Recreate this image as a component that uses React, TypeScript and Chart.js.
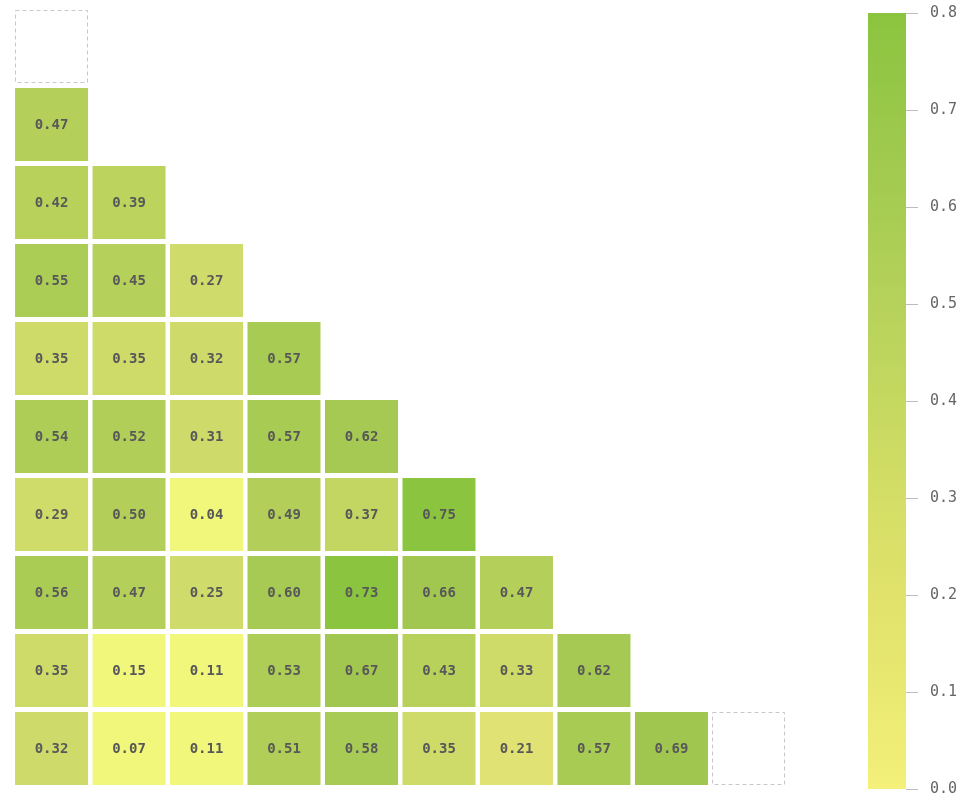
import React, { useEffect, useRef } from "react";
import { Chart, registerables } from "chart.js";

Chart.register(...registerables);

// Lower triangle of the correlation matrix (row i holds columns 0..i-1)
const matrixSize = 10;
const lowerTriangle: number[][] = [
  [],
  [0.47],
  [0.42, 0.39],
  [0.55, 0.45, 0.27],
  [0.35, 0.35, 0.32, 0.57],
  [0.54, 0.52, 0.31, 0.57, 0.62],
  [0.29, 0.5, 0.04, 0.49, 0.37, 0.75],
  [0.56, 0.47, 0.25, 0.6, 0.73, 0.66, 0.47],
  [0.35, 0.15, 0.11, 0.53, 0.67, 0.43, 0.33, 0.62],
  [0.32, 0.07, 0.11, 0.51, 0.58, 0.35, 0.21, 0.57, 0.69],
];
// Diagonal positions shown as empty dashed placeholders
const emptyDiagonal = [0, 9];

// Cell fill palette
const cellStopValues = [0, 0.15, 0.21, 0.25, 0.35, 0.37, 0.4, 0.47, 0.5, 0.57, 0.69, 0.72, 0.8];
const cellStopColors = [
  "#f0f77a", "#f0f77a", "#e0e274", "#cfdc6b", "#cedb69", "#c3d662", "#b9d25c",
  "#b5d05a", "#b3cf59", "#a8cb54", "#a0c64f", "#8bc43f", "#8bc43f",
];

// Colour bar palette and range
const barMin = 0;
const barMax = 0.8;
const barStep = 0.1;
const barStopValues = [0, 0.1, 0.2, 0.3, 0.4, 0.5, 0.6, 0.7, 0.8];
const barStopColors = [
  "#f4f07a", "#e9e971", "#e0e26c", "#d4de66", "#c5d860", "#b6d25a", "#a7cc52", "#99c849", "#8bc43f",
];

const CELL_GAP = 4.5;
const MONO = "'DejaVu Sans Mono', monospace";

function hexToRgb(h: string): number[] {
  const n = parseInt(h.slice(1), 16);
  return [(n >> 16) & 255, (n >> 8) & 255, n & 255];
}

function colorAt(v: number, stops: number[], colors: string[]): string {
  if (v <= stops[0]) return colors[0];
  for (let i = 1; i < stops.length; i++) {
    if (v <= stops[i]) {
      const t = (v - stops[i - 1]) / (stops[i] - stops[i - 1]);
      const a = hexToRgb(colors[i - 1]);
      const b = hexToRgb(colors[i]);
      const c = a.map((x, k) => Math.round(x + (b[k] - x) * t));
      return `rgb(${c[0]},${c[1]},${c[2]})`;
    }
  }
  return colors[colors.length - 1];
}

type Cell = { x: number; y: number; v: number };
const cells: Cell[] = [];
lowerTriangle.forEach((row, r) => row.forEach((v, c) => cells.push({ x: c, y: r, v })));

function cellSide(chart: any): number {
  const xs = chart.scales.x;
  const ys = chart.scales.y;
  const px = Math.abs(xs.getPixelForValue(1) - xs.getPixelForValue(0));
  const py = Math.abs(ys.getPixelForValue(1) - ys.getPixelForValue(0));
  return Math.min(px, py) - CELL_GAP;
}

const cellLabels = {
  id: "cellLabels",
  afterDatasetsDraw(chart: any) {
    const { ctx } = chart;
    const meta = chart.getDatasetMeta(0);
    ctx.save();
    ctx.font = `bold 14px ${MONO}`;
    ctx.fillStyle = "#585858";
    ctx.textAlign = "center";
    ctx.textBaseline = "middle";
    meta.data.forEach((el: any, i: number) => {
      ctx.fillText(cells[i].v.toFixed(2), el.x, el.y + 1);
    });
    // dashed placeholders on the diagonal
    const side = cellSide(chart);
    ctx.strokeStyle = "#c8c8c8";
    ctx.lineWidth = 1;
    ctx.setLineDash([4, 3]);
    emptyDiagonal.forEach((d) => {
      const cx = chart.scales.x.getPixelForValue(d);
      const cy = chart.scales.y.getPixelForValue(d);
      ctx.strokeRect(Math.round(cx - side / 2) + 0.5, Math.round(cy - side / 2) + 0.5, Math.round(side) - 1, Math.round(side) - 1);
    });
    ctx.restore();
  },
};

const gradientBar = {
  id: "gradientBar",
  beforeDatasetsDraw(chart: any) {
    const { ctx, chartArea } = chart;
    const ys = chart.scales.y;
    const y0 = ys.getPixelForValue(barMin);
    const y1 = ys.getPixelForValue(barMax);
    const g = ctx.createLinearGradient(0, y0, 0, y1);
    barStopValues.forEach((v, i) => {
      g.addColorStop((v - barMin) / (barMax - barMin), barStopColors[i]);
    });
    ctx.save();
    ctx.fillStyle = g;
    ctx.fillRect(chartArea.left, y1, chartArea.right - chartArea.left, y0 - y1);
    ctx.restore();
  },
};

export default function App() {
  const heatRef = useRef<HTMLCanvasElement>(null);
  const barRef = useRef<HTMLCanvasElement>(null);

  useEffect(() => {
    const heat = new Chart(heatRef.current!, {
      type: "scatter",
      data: {
        datasets: [
          {
            data: cells.map((c) => ({ x: c.x, y: c.y })),
            pointStyle: "rect",
            backgroundColor: cells.map((c) => colorAt(c.v, cellStopValues, cellStopColors)),
            borderWidth: 0,
            pointRadius: (ctx: any) => cellSide(ctx.chart) / Math.SQRT2,
            pointHoverRadius: (ctx: any) => cellSide(ctx.chart) / Math.SQRT2,
          } as any,
        ],
      },
      options: {
        responsive: false,
        animation: false,
        events: [],
        layout: { padding: { left: 12.8, right: 12.3, top: 7.5, bottom: 8.5 } },
        plugins: { legend: { display: false }, tooltip: { enabled: false } },
        scales: {
          x: { type: "linear", min: -0.5, max: matrixSize - 0.5, display: false },
          y: { type: "linear", min: -0.5, max: matrixSize - 0.5, reverse: true, display: false },
        },
      },
      plugins: [cellLabels],
    });

    const bar = new Chart(barRef.current!, {
      type: "scatter",
      data: { datasets: [{ data: [] }] },
      options: {
        responsive: false,
        animation: false,
        events: [],
        layout: { padding: { left: 18, right: 0, top: 13, bottom: 21 } },
        plugins: { legend: { display: false }, tooltip: { enabled: false } },
        scales: {
          x: { type: "linear", min: 0, max: 1, display: false },
          y: {
            type: "linear",
            position: "right",
            min: barMin,
            max: barMax,
            afterFit: (s: any) => {
              s.width = 70;
              s.paddingTop = 0;
              s.paddingBottom = 0;
            },
            border: { display: false },
            grid: { drawOnChartArea: false, drawTicks: true, tickLength: 12, color: "#bdbdbd", lineWidth: 1 },
            ticks: {
              stepSize: barStep,
              padding: 12,
              color: "#666",
              font: { family: MONO, size: 15 },
              callback: (v: any) => Number(v).toFixed(1),
            },
          },
        },
      },
      plugins: [gradientBar],
    });

    return () => {
      heat.destroy();
      bar.destroy();
    };
  }, []);

  return (
    <div style={{ position: "fixed", left: 0, top: 0, width: 976, height: 796, background: "#fff", overflow: "hidden" }}>
      <canvas ref={heatRef} width={800} height={796} style={{ position: "absolute", left: 0, top: 0 }} />
      <canvas ref={barRef} width={126} height={810} style={{ position: "absolute", left: 850, top: 0 }} />
    </div>
  );
}
